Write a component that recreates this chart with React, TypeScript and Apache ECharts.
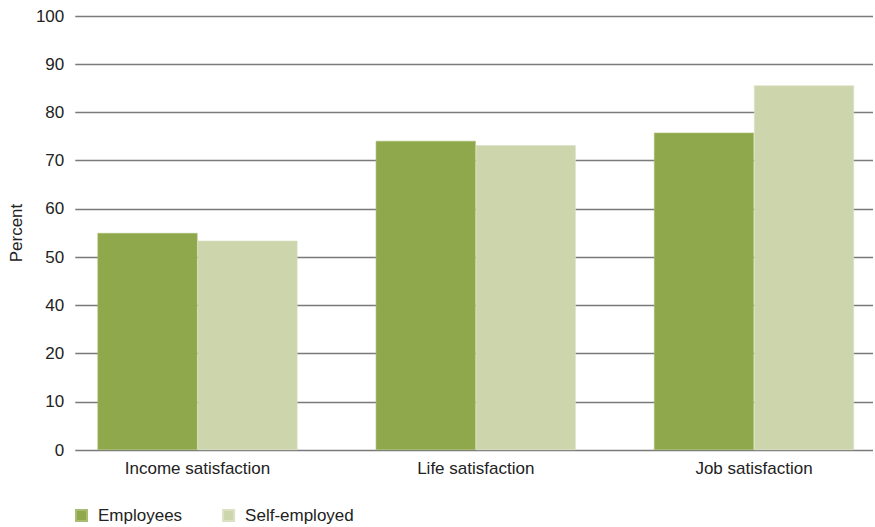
import React, { useEffect, useRef } from "react";
import * as echarts from "echarts";

const categories = ["Income satisfaction", "Life satisfaction", "Job satisfaction"];
const employees = [55, 74.1, 75.8];
const selfEmployed = [53.4, 73.2, 85.6];
// Tick labels as printed on the reference axis (evenly spaced gridlines)
const tickLabels = [0, 10, 20, 40, 50, 60, 70, 80, 90, 100];

// Map a percent value onto the printed (evenly spaced) tick scale
function toAxis(v: number): number {
  for (let i = 0; i < tickLabels.length - 1; i++) {
    const a = tickLabels[i];
    const b = tickLabels[i + 1];
    if (v >= a && v <= b) return i + (v - a) / (b - a);
  }
  return tickLabels.length - 1;
}

const FONT = "'Liberation Sans', Arial, sans-serif";
const FS = 17;

export default function App() {
  const ref = useRef<HTMLDivElement>(null);
  useEffect(() => {
    if (!ref.current) return;
    const chart = echarts.init(ref.current, null, { renderer: "svg" });
    const top = 16;
    const height = 434;
    chart.setOption({
      animation: false,
      textStyle: { fontFamily: FONT },
      legend: {
        left: 70,
        top: 502,
        itemWidth: 11,
        itemHeight: 11,
        itemGap: 40,
        icon: "rect",
        textStyle: { fontSize: FS, color: "#222", fontFamily: FONT, padding: [0, 0, 0, 6] },
        data: ["Employees", "Self-employed"],
      },
      grid: [
        { left: 74, right: 2, top, height },
        { left: 197.5, width: 556.5, top, height },
      ],
      xAxis: [
        { type: "value", gridIndex: 0, min: 0, max: 1, show: false },
        {
          type: "category",
          gridIndex: 1,
          boundaryGap: false,
          data: categories,
          axisLine: { show: false },
          axisTick: { show: false },
          axisLabel: { fontSize: FS, color: "#222", margin: 10, fontFamily: FONT },
        },
      ],
      yAxis: [
        {
          type: "value",
          gridIndex: 0,
          min: 0,
          max: tickLabels.length - 1,
          interval: 1,
          name: "Percent",
          nameLocation: "middle",
          nameGap: 47,
          nameRotate: 90,
          nameTextStyle: { fontSize: FS, color: "#222", fontFamily: FONT },
          axisLine: { show: false },
          axisTick: { show: false },
          axisLabel: {
            fontSize: FS,
            color: "#222",
            margin: 11,
            fontFamily: FONT,
            formatter: (v: number) => String(tickLabels[Math.round(v)]),
          },
          splitLine: { show: true, lineStyle: { color: "#7a7a7a", width: 1.3 } },
        },
        {
          type: "value",
          gridIndex: 1,
          min: 0,
          max: tickLabels.length - 1,
          show: false,
        },
      ],
      series: [
        {
          name: "Employees",
          type: "bar",
          xAxisIndex: 1,
          yAxisIndex: 1,
          barWidth: 100,
          barGap: "0%",
          data: employees.map(toAxis),
          itemStyle: { color: "#8fa84b", borderColor: "#a9bc72", borderWidth: 0.6 },
        },
        {
          name: "Self-employed",
          type: "bar",
          xAxisIndex: 1,
          yAxisIndex: 1,
          barWidth: 100,
          barGap: "0%",
          data: selfEmployed.map(toAxis),
          itemStyle: { color: "#cdd5ac", borderColor: "#dbe2c2", borderWidth: 0.6 },
        },
      ],
    });
    return () => chart.dispose();
  }, []);
  return <div ref={ref} style={{ width: 875, height: 527, position: "absolute", left: 0, top: 0 }} />;
}
